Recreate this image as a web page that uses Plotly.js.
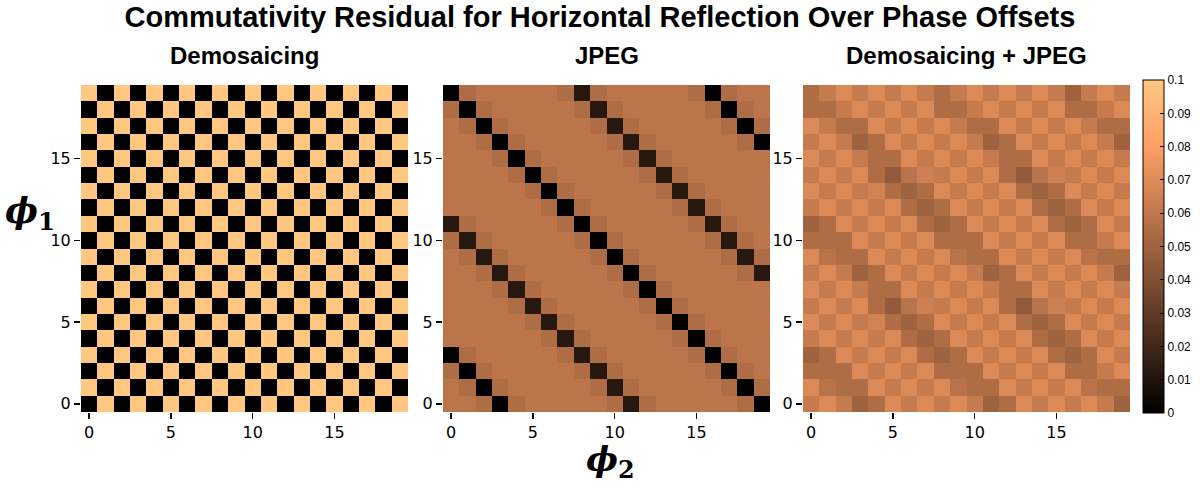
<!DOCTYPE html>
<html>
<head>
<meta charset="utf-8">
<script src="https://cdn.plot.ly/plotly-3.0.1.min.js"></script>
<style>html,body{margin:0;padding:0;background:#fff;}#chart{width:1200px;height:488px;}</style>
</head>
<body>
<div id="chart"></div>
<script>
// Phase offset axes
const phi2 = [0,1,2,3,4,5,6,7,8,9,10,11,12,13,14,15,16,17,18,19];
// rows listed from top (phi1 = 19) to bottom (phi1 = 0)
const phi1 = [19,18,17,16,15,14,13,12,11,10,9,8,7,6,5,4,3,2,1,0];
const xTicks = [0,5,10,15];
const yTicks = [0,5,10,15];
const cbTickVals = [0,0.01,0.02,0.03,0.04,0.05,0.06,0.07,0.08,0.09,0.1];
const cbTickText = ["0","0.01","0.02","0.03","0.04","0.05","0.06","0.07","0.08","0.09","0.1"];
const panelTitles = ["Demosaicing","JPEG","Demosaicing + JPEG"];

const demosaicing = [
[0.1,0,0.1,0,0.1,0,0.1,0,0.1,0,0.1,0,0.1,0,0.1,0,0.1,0,0.1,0],
[0,0.1,0,0.1,0,0.1,0,0.1,0,0.1,0,0.1,0,0.1,0,0.1,0,0.1,0,0.1],
[0.1,0,0.1,0,0.1,0,0.1,0,0.1,0,0.1,0,0.1,0,0.1,0,0.1,0,0.1,0],
[0,0.1,0,0.1,0,0.1,0,0.1,0,0.1,0,0.1,0,0.1,0,0.1,0,0.1,0,0.1],
[0.1,0,0.1,0,0.1,0,0.1,0,0.1,0,0.1,0,0.1,0,0.1,0,0.1,0,0.1,0],
[0,0.1,0,0.1,0,0.1,0,0.1,0,0.1,0,0.1,0,0.1,0,0.1,0,0.1,0,0.1],
[0.1,0,0.1,0,0.1,0,0.1,0,0.1,0,0.1,0,0.1,0,0.1,0,0.1,0,0.1,0],
[0,0.1,0,0.1,0,0.1,0,0.1,0,0.1,0,0.1,0,0.1,0,0.1,0,0.1,0,0.1],
[0.1,0,0.1,0,0.1,0,0.1,0,0.1,0,0.1,0,0.1,0,0.1,0,0.1,0,0.1,0],
[0,0.1,0,0.1,0,0.1,0,0.1,0,0.1,0,0.1,0,0.1,0,0.1,0,0.1,0,0.1],
[0.1,0,0.1,0,0.1,0,0.1,0,0.1,0,0.1,0,0.1,0,0.1,0,0.1,0,0.1,0],
[0,0.1,0,0.1,0,0.1,0,0.1,0,0.1,0,0.1,0,0.1,0,0.1,0,0.1,0,0.1],
[0.1,0,0.1,0,0.1,0,0.1,0,0.1,0,0.1,0,0.1,0,0.1,0,0.1,0,0.1,0],
[0,0.1,0,0.1,0,0.1,0,0.1,0,0.1,0,0.1,0,0.1,0,0.1,0,0.1,0,0.1],
[0.1,0,0.1,0,0.1,0,0.1,0,0.1,0,0.1,0,0.1,0,0.1,0,0.1,0,0.1,0],
[0,0.1,0,0.1,0,0.1,0,0.1,0,0.1,0,0.1,0,0.1,0,0.1,0,0.1,0,0.1],
[0.1,0,0.1,0,0.1,0,0.1,0,0.1,0,0.1,0,0.1,0,0.1,0,0.1,0,0.1,0],
[0,0.1,0,0.1,0,0.1,0,0.1,0,0.1,0,0.1,0,0.1,0,0.1,0,0.1,0,0.1],
[0.1,0,0.1,0,0.1,0,0.1,0,0.1,0,0.1,0,0.1,0,0.1,0,0.1,0,0.1,0],
[0,0.1,0,0.1,0,0.1,0,0.1,0,0.1,0,0.1,0,0.1,0,0.1,0,0.1,0,0.1]
];

const jpeg = [
[0,0.055,0.059,0.059,0.059,0.059,0.059,0.055,0.012,0.055,0.059,0.059,0.059,0.059,0.059,0.055,0,0.055,0.059,0.059],
[0.055,0,0.055,0.059,0.059,0.059,0.059,0.059,0.055,0.012,0.055,0.059,0.059,0.059,0.059,0.059,0.055,0,0.055,0.059],
[0.059,0.055,0,0.055,0.059,0.059,0.059,0.059,0.059,0.055,0.012,0.055,0.059,0.059,0.059,0.059,0.059,0.055,0,0.055],
[0.059,0.059,0.055,0,0.055,0.059,0.059,0.059,0.059,0.059,0.055,0.012,0.055,0.059,0.059,0.059,0.059,0.059,0.055,0],
[0.059,0.059,0.059,0.055,0,0.055,0.059,0.059,0.059,0.059,0.059,0.055,0.012,0.055,0.059,0.059,0.059,0.059,0.059,0.059],
[0.059,0.059,0.059,0.059,0.055,0,0.055,0.059,0.059,0.059,0.059,0.059,0.055,0.012,0.055,0.059,0.059,0.059,0.059,0.059],
[0.059,0.059,0.059,0.059,0.059,0.055,0,0.055,0.059,0.059,0.059,0.059,0.059,0.055,0.012,0.055,0.059,0.059,0.059,0.059],
[0.059,0.059,0.059,0.059,0.059,0.059,0.055,0,0.055,0.059,0.059,0.059,0.059,0.059,0.055,0.012,0.055,0.059,0.059,0.059],
[0.012,0.055,0.059,0.059,0.059,0.059,0.059,0.055,0,0.055,0.059,0.059,0.059,0.059,0.059,0.055,0.012,0.055,0.059,0.059],
[0.055,0.012,0.055,0.059,0.059,0.059,0.059,0.059,0.055,0,0.055,0.059,0.059,0.059,0.059,0.059,0.055,0.012,0.055,0.059],
[0.059,0.055,0.012,0.055,0.059,0.059,0.059,0.059,0.059,0.055,0,0.055,0.059,0.059,0.059,0.059,0.059,0.055,0.012,0.055],
[0.059,0.059,0.055,0.012,0.055,0.059,0.059,0.059,0.059,0.059,0.055,0,0.055,0.059,0.059,0.059,0.059,0.059,0.055,0.012],
[0.059,0.059,0.059,0.055,0.012,0.055,0.059,0.059,0.059,0.059,0.059,0.055,0,0.055,0.059,0.059,0.059,0.059,0.059,0.059],
[0.059,0.059,0.059,0.059,0.055,0.012,0.055,0.059,0.059,0.059,0.059,0.059,0.055,0,0.055,0.059,0.059,0.059,0.059,0.059],
[0.059,0.059,0.059,0.059,0.059,0.055,0.012,0.055,0.059,0.059,0.059,0.059,0.059,0.055,0,0.055,0.059,0.059,0.059,0.059],
[0.059,0.059,0.059,0.059,0.059,0.059,0.055,0.012,0.055,0.059,0.059,0.059,0.059,0.059,0.055,0,0.055,0.059,0.059,0.059],
[0,0.055,0.059,0.059,0.059,0.059,0.059,0.055,0.012,0.055,0.059,0.059,0.059,0.059,0.059,0.055,0,0.055,0.059,0.059],
[0.055,0,0.055,0.059,0.059,0.059,0.059,0.059,0.055,0.012,0.055,0.059,0.059,0.059,0.059,0.059,0.055,0,0.055,0.059],
[0.059,0.055,0,0.055,0.059,0.059,0.059,0.059,0.059,0.055,0.012,0.055,0.059,0.059,0.059,0.059,0.059,0.055,0,0.055],
[0.059,0.059,0.055,0,0.055,0.059,0.059,0.059,0.059,0.059,0.055,0.012,0.055,0.059,0.059,0.059,0.059,0.059,0.055,0]
];

const demosaicingJpeg = [
[0.055,0.062,0.069,0.062,0.069,0.062,0.069,0.062,0.055,0.062,0.069,0.062,0.069,0.062,0.069,0.062,0.050,0.062,0.069,0.062],
[0.055,0.055,0.062,0.069,0.062,0.069,0.062,0.069,0.055,0.055,0.062,0.069,0.062,0.069,0.062,0.069,0.055,0.055,0.062,0.069],
[0.069,0.062,0.055,0.055,0.069,0.062,0.069,0.062,0.069,0.062,0.055,0.055,0.069,0.062,0.069,0.062,0.069,0.062,0.055,0.055],
[0.062,0.069,0.062,0.050,0.055,0.069,0.062,0.069,0.062,0.069,0.062,0.050,0.055,0.069,0.062,0.069,0.062,0.069,0.062,0.050],
[0.069,0.062,0.069,0.062,0.055,0.055,0.069,0.062,0.069,0.062,0.069,0.062,0.055,0.055,0.069,0.062,0.069,0.062,0.069,0.062],
[0.062,0.069,0.062,0.069,0.055,0.046,0.058,0.064,0.062,0.069,0.062,0.069,0.055,0.046,0.058,0.064,0.062,0.069,0.062,0.069],
[0.069,0.062,0.069,0.062,0.066,0.055,0.050,0.055,0.069,0.062,0.069,0.062,0.069,0.055,0.050,0.055,0.069,0.062,0.069,0.062],
[0.062,0.069,0.062,0.069,0.062,0.069,0.055,0.050,0.055,0.069,0.062,0.069,0.062,0.069,0.055,0.050,0.055,0.069,0.062,0.069],
[0.050,0.055,0.069,0.062,0.069,0.062,0.069,0.055,0.050,0.055,0.069,0.062,0.069,0.062,0.069,0.055,0.050,0.055,0.069,0.062],
[0.055,0.055,0.055,0.069,0.062,0.069,0.062,0.069,0.055,0.055,0.055,0.069,0.062,0.069,0.062,0.069,0.055,0.055,0.062,0.069],
[0.069,0.058,0.055,0.055,0.069,0.062,0.069,0.062,0.069,0.058,0.055,0.055,0.069,0.062,0.069,0.062,0.069,0.058,0.055,0.055],
[0.062,0.069,0.062,0.050,0.055,0.069,0.062,0.069,0.062,0.069,0.062,0.050,0.055,0.069,0.062,0.069,0.062,0.069,0.062,0.050],
[0.069,0.062,0.069,0.062,0.055,0.055,0.069,0.062,0.069,0.062,0.069,0.062,0.055,0.055,0.069,0.062,0.069,0.062,0.069,0.062],
[0.062,0.069,0.062,0.069,0.055,0.046,0.058,0.064,0.062,0.069,0.062,0.069,0.055,0.046,0.058,0.064,0.062,0.069,0.062,0.069],
[0.069,0.062,0.069,0.062,0.066,0.055,0.050,0.055,0.069,0.062,0.069,0.062,0.069,0.055,0.050,0.055,0.069,0.062,0.069,0.062],
[0.062,0.069,0.062,0.069,0.062,0.069,0.055,0.050,0.055,0.069,0.062,0.069,0.062,0.069,0.055,0.050,0.055,0.069,0.062,0.069],
[0.050,0.055,0.069,0.062,0.069,0.062,0.069,0.055,0.050,0.055,0.069,0.062,0.069,0.062,0.069,0.055,0.050,0.055,0.069,0.062],
[0.055,0.055,0.055,0.069,0.062,0.069,0.062,0.069,0.055,0.055,0.055,0.069,0.062,0.069,0.062,0.069,0.055,0.055,0.062,0.069],
[0.069,0.058,0.055,0.055,0.069,0.062,0.069,0.062,0.069,0.058,0.055,0.055,0.069,0.062,0.069,0.062,0.069,0.058,0.055,0.055],
[0.062,0.069,0.062,0.050,0.055,0.069,0.062,0.069,0.062,0.069,0.062,0.050,0.055,0.069,0.062,0.069,0.062,0.069,0.062,0.050]
];

// matplotlib "copper" colormap
const copper = [[0,'rgb(0,0,0)'],[0.8,'rgb(255,159,102)'],[1,'rgb(255,199,127)']];

const W = 1200, H = 488;
const panelX = [[81,408],[443,770],[803,1130]];
const panelY = [85,412];
const px = v => v / W;
const py = v => 1 - v / H;

const zs = [demosaicing, jpeg, demosaicingJpeg];
const traces = zs.map((z, i) => ({
  type: 'heatmap',
  z: z, x: phi2, y: phi1,
  coloraxis: 'coloraxis',
  xaxis: i === 0 ? 'x' : 'x' + (i + 1),
  yaxis: i === 0 ? 'y' : 'y' + (i + 1),
  hoverinfo: 'z'
}));

const tickFont = {family: 'DejaVu Sans', size: 16, color: '#000'};
function xa(i) {
  return {domain: [px(panelX[i][0]), px(panelX[i][1])], range: [-0.5, 19.5],
    anchor: i === 0 ? 'y' : 'y' + (i + 1), tickvals: xTicks, ticks: 'outside', ticklen: 6,
    tickwidth: 1.5, tickcolor: '#000', tickfont: tickFont, showgrid: false, zeroline: false, showline: false};
}
function ya(i) {
  return {domain: [py(panelY[1]), py(panelY[0])], range: [-0.5, 19.5],
    anchor: i === 0 ? 'x' : 'x' + (i + 1), tickvals: yTicks, ticks: 'outside', ticklen: 6,
    tickwidth: 1.5, tickcolor: '#000', tickfont: tickFont, showgrid: false, zeroline: false, showline: false};
}

const annotations = panelTitles.map((t, i) => ({
  text: '<b>' + t + '</b>', xref: 'paper', yref: 'paper',
  x: px((panelX[i][0] + panelX[i][1]) / 2), y: py(55), xanchor: 'center', yanchor: 'middle',
  showarrow: false, font: {family: 'Liberation Sans, Arial', size: 24, color: '#000'}
}));
annotations.push({
  text: '<b><i>ϕ</i></b><sub><b>1</b></sub>', xref: 'paper', yref: 'paper',
  x: px(30), y: py(213), xanchor: 'center', yanchor: 'middle', showarrow: false,
  font: {family: 'DejaVu Serif', size: 35, color: '#000'}
});
annotations.push({
  text: '<b><i>ϕ</i></b><sub><b>2</b></sub>', xref: 'paper', yref: 'paper',
  x: px(610), y: py(461), xanchor: 'center', yanchor: 'middle', showarrow: false,
  font: {family: 'DejaVu Serif', size: 34, color: '#000'}
});

const layout = {
  width: W, height: H, autosize: false,
  margin: {l: 0, r: 0, t: 0, b: 0, pad: 0},
  paper_bgcolor: '#fff', plot_bgcolor: '#fff',
  title: {text: '<b>Commutativity Residual for Horizontal Reflection Over Phase Offsets</b>',
    x: 0.5, xanchor: 'center', y: py(17), yanchor: 'middle', yref: 'container',
    font: {family: 'Liberation Sans, Arial', size: 29, color: '#000'}},
  xaxis: xa(0), yaxis: ya(0), xaxis2: xa(1), yaxis2: ya(1), xaxis3: xa(2), yaxis3: ya(2),
  coloraxis: {
    cmin: 0, cmax: 0.1, colorscale: copper,
    colorbar: {
      thickness: 21, thicknessmode: 'pixels', len: (413 - 80) / H, lenmode: 'fraction',
      x: px(1143), xanchor: 'left', y: py(80), yanchor: 'top', xpad: 0, ypad: 0,
      outlinewidth: 1, outlinecolor: '#000', borderwidth: 0,
      ticks: 'inside', ticklen: 4, tickcolor: '#000', tickwidth: 1,
      tickvals: cbTickVals, ticktext: cbTickText,
      tickfont: {family: 'Liberation Sans, Arial', size: 12, color: '#000'}
    }
  },
  annotations: annotations,
  showlegend: false
};

Plotly.newPlot('chart', traces, layout, {displayModeBar: false, staticPlot: true});
</script>
</body>
</html>
